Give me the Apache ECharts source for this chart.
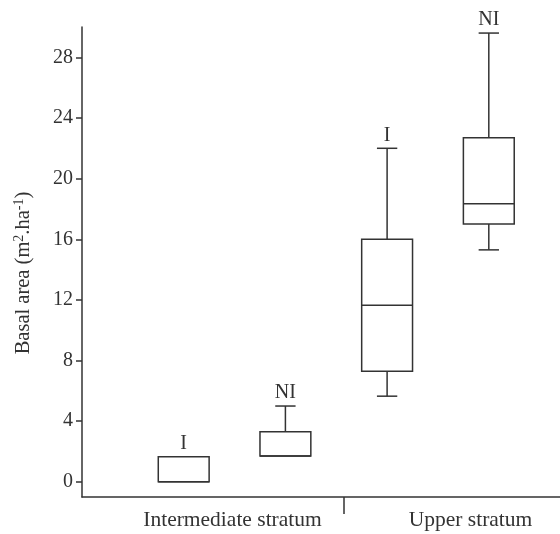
<!DOCTYPE html>
<html>
<head>
<meta charset="utf-8">
<script src="https://cdn.jsdelivr.net/npm/echarts@6/dist/echarts.min.js"></script>
<style>
  html, body { margin: 0; padding: 0; background: #fff; }
  #chart { width: 560px; height: 534px; }
</style>
</head>
<body>
<div id="chart"></div>
<script>
// group names under the x axis and where they sit
const groups = ['Intermediate stratum', 'Upper stratum'];
const groupPos = [1.48, 3.82];
const dividerPos = [2.57];

// box labels and stats: [min, Q1, median, Q3, max]
const boxLabels = ['I', 'NI', 'I', 'NI'];
const boxMin = [0, 1.7, 5.65, 15.3];
const boxQ1 = [0, 1.7, 7.3, 17.0];
const boxMed = [0, 1.7, 11.65, 18.35];
const boxQ3 = [1.65, 3.3, 16.0, 22.7];
const boxMax = [1.65, 5.0, 22.0, 29.6];

const yTicks = [0, 4, 8, 12, 16, 20, 24, 28];

const ink = '#333';
const font = 'Liberation Serif';
const boxWidth = 0.5;
const capWidth = 0.2;

const boxData = boxLabels.map((l, i) => [i + 1, boxMin[i], boxQ1[i], boxMed[i], boxQ3[i], boxMax[i]]);

let myChart = echarts.init(document.getElementById('chart'));

let option = {
  animation: false,
  grid: {
    left: 82,
    right: 0,
    top: 27,
    bottom: 37,
    outerBoundsMode: 'none'
  },
  xAxis: {
    type: 'value',
    min: 0,
    max: 4.7,
    splitLine: { show: false },
    axisLine: { show: true, onZero: false, lineStyle: { color: ink, width: 1.5 } },
    axisTick: { show: true, customValues: dividerPos, length: 17, lineStyle: { color: ink, width: 1.5 } },
    axisLabel: {
      customValues: groupPos,
      formatter: v => groups[groupPos.indexOf(v)] || '',
      color: ink,
      fontFamily: font,
      fontSize: 21.5,
      margin: 12
    }
  },
  yAxis: {
    type: 'value',
    min: -1,
    max: 30,
    name: 'Basal area (m{sup|2}.ha{sup|-1})',
    nameLocation: 'middle',
    nameGap: 47,
    nameTextStyle: {
      color: ink,
      fontFamily: font,
      fontSize: 20.5,
      padding: [0, 22, 0, 0],
      rich: {
        sup: { fontSize: 14, verticalAlign: 'top', fontFamily: font, color: ink, padding: [0, 0, 9, 0] }
      }
    },
    splitLine: { show: false },
    axisLine: { show: true, onZero: false, lineStyle: { color: ink, width: 1.5 } },
    axisTick: { show: true, customValues: yTicks, length: 6, lineStyle: { color: ink, width: 1.5 } },
    axisLabel: {
      customValues: yTicks,
      color: ink,
      fontFamily: font,
      fontSize: 20,
      margin: 9
    }
  },
  series: [
    {
      type: 'custom',
      clip: false,
      data: boxData,
      renderItem: (params, api) => {
        const x = api.value(0);
        const c = v => api.coord([x, v]);
        const hw = api.size([boxWidth, 0])[0] / 2;
        const cw = api.size([capWidth, 0])[0] / 2;
        const [px, pMin] = c(api.value(1));
        const pQ1 = c(api.value(2))[1];
        const pMed = c(api.value(3))[1];
        const pQ3 = c(api.value(4))[1];
        const pMax = c(api.value(5))[1];
        const line = { stroke: ink, lineWidth: 1.5, fill: null };
        const kids = [];
        if (api.value(5) > api.value(4)) {
          kids.push({ type: 'line', shape: { x1: px, y1: pQ3, x2: px, y2: pMax }, style: line });
          kids.push({ type: 'line', shape: { x1: px - cw, y1: pMax, x2: px + cw, y2: pMax }, style: line });
        }
        if (api.value(1) < api.value(2)) {
          kids.push({ type: 'line', shape: { x1: px, y1: pQ1, x2: px, y2: pMin }, style: line });
          kids.push({ type: 'line', shape: { x1: px - cw, y1: pMin, x2: px + cw, y2: pMin }, style: line });
        }
        kids.push({
          type: 'rect',
          shape: { x: px - hw, y: pQ3, width: hw * 2, height: pQ1 - pQ3 },
          style: { fill: '#fff', stroke: ink, lineWidth: 1.5 }
        });
        kids.push({ type: 'line', shape: { x1: px - hw, y1: pMed, x2: px + hw, y2: pMed }, style: line });
        kids.push({
          type: 'text',
          x: px,
          y: pMax - 3,
          style: {
            text: boxLabels[params.dataIndex],
            align: 'center',
            verticalAlign: 'bottom',
            fontFamily: font,
            fontSize: 20,
            fill: ink
          }
        });
        return { type: 'group', children: kids };
      }
    }
  ]
};
myChart.setOption(option);
</script>
</body>
</html>
